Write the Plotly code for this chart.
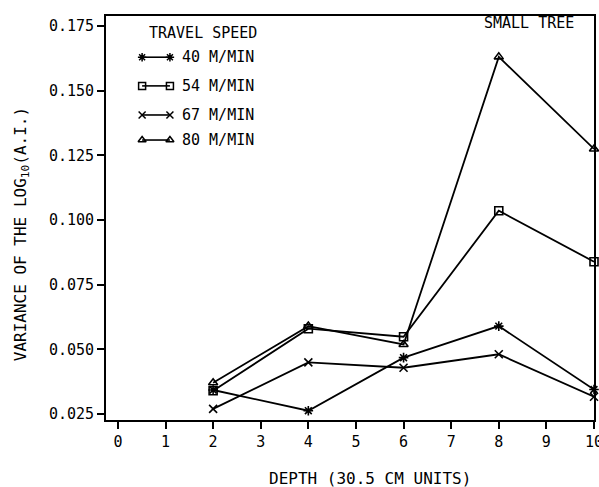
import plotly.graph_objects as go

depth = [2, 4, 6, 8, 10]
speed_labels = ["40 M/MIN", "54 M/MIN", "67 M/MIN", "80 M/MIN"]
v40 = [0.0343, 0.0263, 0.0468, 0.0590, 0.0345]
v54 = [0.0340, 0.0580, 0.0549, 0.1036, 0.0839]
v67 = [0.0270, 0.0450, 0.0429, 0.0481, 0.0317]
v80 = [0.0371, 0.0590, 0.0519, 0.1631, 0.1275]
series = [v40, v54, v67, v80]
symbols = ["asterisk-open", "square-open", "x-thin-open", "triangle-up-open"]
x_ticks = list(range(0, 11))
y_ticks = [0.025, 0.050, 0.075, 0.100, 0.125, 0.150, 0.175]
y_tick_text = ["0.025", "0.050", "0.075", "0.100", "0.125", "0.150", "0.175"]

FONT = "DejaVu Sans Mono"
fig = go.Figure()
for vals, sym, lab in zip(series, symbols, speed_labels):
    fig.add_trace(go.Scatter(
        x=depth, y=vals, mode="lines+markers", name=lab,
        line=dict(color="black", width=1.8),
        marker=dict(symbol=sym, size=8, color="black", line=dict(color="black", width=1.6)),
        showlegend=False, cliponaxis=False,
    ))

# hand-drawn style legend on an overlay axis (0..1 fraction of plot area)
leg_x = [0.074, 0.131]
leg_rows = [0.898, 0.827, 0.755, 0.693]
for sym, lab, ry in zip(symbols, speed_labels, leg_rows):
    fig.add_trace(go.Scatter(
        x=leg_x, y=[ry, ry], mode="lines+markers", xaxis="x2", yaxis="y2",
        line=dict(color="black", width=1.6),
        marker=dict(symbol=sym, size=7, color="black", line=dict(color="black", width=1.5)),
        showlegend=False, hoverinfo="skip",
    ))
    fig.add_annotation(x=0.152, y=ry, xref="x2", yref="y2", text=lab, showarrow=False,
                       xanchor="left", yanchor="middle", font=dict(family=FONT, size=15, color="black"))

fig.add_annotation(x=0.199, y=0.958, xref="x2", yref="y2", text="TRAVEL SPEED", showarrow=False,
                   xanchor="center", yanchor="middle", font=dict(family=FONT, size=15, color="black"))
fig.add_annotation(x=0.963, y=0.983, xref="paper", yref="paper", text="SMALL TREE", showarrow=False,
                   xanchor="right", yanchor="middle", font=dict(family=FONT, size=15, color="black"))

fig.add_annotation(x=-0.174, y=0.46, xref="paper", yref="paper",
                   text="VARIANCE OF THE LOG<sub>10</sub>(A.I.)", textangle=-90, showarrow=False,
                   xanchor="center", yanchor="middle", font=dict(family=FONT, size=16, color="black"))
fig.add_annotation(x=0.541, y=-0.145, xref="paper", yref="paper",
                   text="DEPTH (30.5 CM UNITS)", showarrow=False,
                   xanchor="center", yanchor="middle", font=dict(family=FONT, size=16, color="black"))

fig.update_layout(
    width=599, height=487,
    margin=dict(l=106, r=5, t=16, b=67, autoexpand=False),
    paper_bgcolor="white", plot_bgcolor="white",
    font=dict(family=FONT, color="black"),
    xaxis=dict(range=[-0.25, 10.0], tickvals=x_ticks, ticks="outside", ticklen=7, tickwidth=1.5,
               tickcolor="black", showline=True, linecolor="black", linewidth=1.8, mirror=True,
               showgrid=False, zeroline=False, ticklabeloverflow="allow", automargin=False,
               tickfont=dict(family=FONT, size=15, color="black")),
    yaxis=dict(range=[0.0227, 0.1789], tickvals=y_ticks, ticktext=y_tick_text, ticks="outside",
               ticklen=7, tickwidth=1.5, tickcolor="black", showline=True, linecolor="black",
               linewidth=1.8, mirror=True, showgrid=False, zeroline=False, automargin=False,
               tickfont=dict(family=FONT, size=15, color="black")),
    xaxis2=dict(range=[0, 1], overlaying="x", visible=False, fixedrange=True, automargin=False),
    yaxis2=dict(range=[0, 1], overlaying="y", visible=False, fixedrange=True, automargin=False),
)

fig.write_html("out.html", config={"displayModeBar": False},
               post_script="document.body.style.margin='0';document.body.style.overflow='hidden';")
